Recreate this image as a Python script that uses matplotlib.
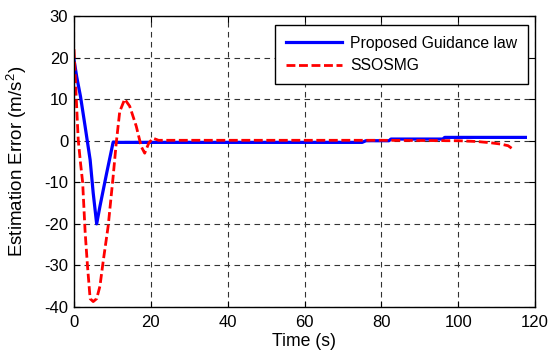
import matplotlib
matplotlib.use("Agg")
import matplotlib.pyplot as plt

# Proposed guidance law (blue)
t_blue = [0, 0.7, 1.7, 2.9, 4.2, 5.0, 5.9, 6.75, 8.5, 10.2, 11, 30, 50, 75, 76, 82, 82.5, 96, 96.5, 117.5]
e_blue = [19.5, 15.4, 10.6, 3.4, -4.6, -12.6, -20, -15.8, -7.8, -0.3, -0.4, -0.4, -0.4, -0.4, 0.0, 0.0, 0.4, 0.4, 0.8, 0.8]

# SSOSMG (red dashed)
t_red = [0, 0.5, 1.1, 1.7, 2.25, 2.9, 3.5, 4.2, 5.0, 5.9, 6.75, 7.6, 8.9, 10.2, 11, 11.9, 13.2, 14.5,
         16.2, 17.5, 18.4, 19.5, 20.6, 22, 40, 60, 80, 100, 105, 108.5, 111, 113, 114.5]
e_red = [22, 12, 0.2, -5.4, -10, -22, -30, -38, -38.7, -38, -35, -29, -20.5, -8.5, -0.5, 7, 10, 8.3,
         3.5, -1.4, -3, -0.5, 0.6, 0.1, 0.1, 0.1, 0.1, 0.0, -0.2, -0.5, -0.8, -1.2, -2.2]

plt.rcParams['font.family'] = ['Liberation Sans', 'DejaVu Sans']
plt.rcParams['axes.unicode_minus'] = False
plt.rcParams['mathtext.fontset'] = 'custom'
plt.rcParams['mathtext.rm'] = 'Liberation Sans'
plt.rcParams['mathtext.it'] = 'Liberation Sans:italic'

fig = plt.figure(figsize=(5.53, 3.58), dpi=100)
ax = fig.add_axes([74 / 553, 1 - 307 / 358, 461 / 553, 291 / 358])

ax.plot(t_blue, e_blue, color='#0000ff', lw=2.3, label='Proposed Guidance law')
ax.plot(t_red, e_red, color='#ff0000', lw=2.0, ls=(0, (3.2, 1.3)), label='SSOSMG')

ax.set_xlim(0, 120)
ax.set_ylim(-40, 30)
ax.set_xticks([0, 20, 40, 60, 80, 100, 120])
ax.set_yticks([-40, -30, -20, -10, 0, 10, 20, 30])
ax.grid(True, color='#333333', ls=(0, (5, 4)), lw=0.8)
ax.tick_params(direction='in', top=True, right=True, labelsize=12, length=4)
ax.tick_params(axis='x', pad=5.8)
ax.tick_params(axis='y', pad=4.1)
for s in ax.spines.values():
    s.set_linewidth(1.0)

ax.set_xlabel('Time (s)', fontsize=12.7, labelpad=2.3)
ax.set_ylabel('Estimation Error (m/s$\\mathregular{^2}$)', fontsize=13.5, labelpad=11)

leg = ax.legend(loc='upper right', fancybox=False, framealpha=1, edgecolor='black',
                prop={'size': 11.3},
                bbox_to_anchor=((528 - 74) / 461, (307 - 25) / 291), borderaxespad=0,
                handlelength=3.6, handletextpad=0.5, borderpad=0.7, labelspacing=0.45)
leg.get_frame().set_linewidth(1.0)

fig.savefig('out.png', dpi=100)
